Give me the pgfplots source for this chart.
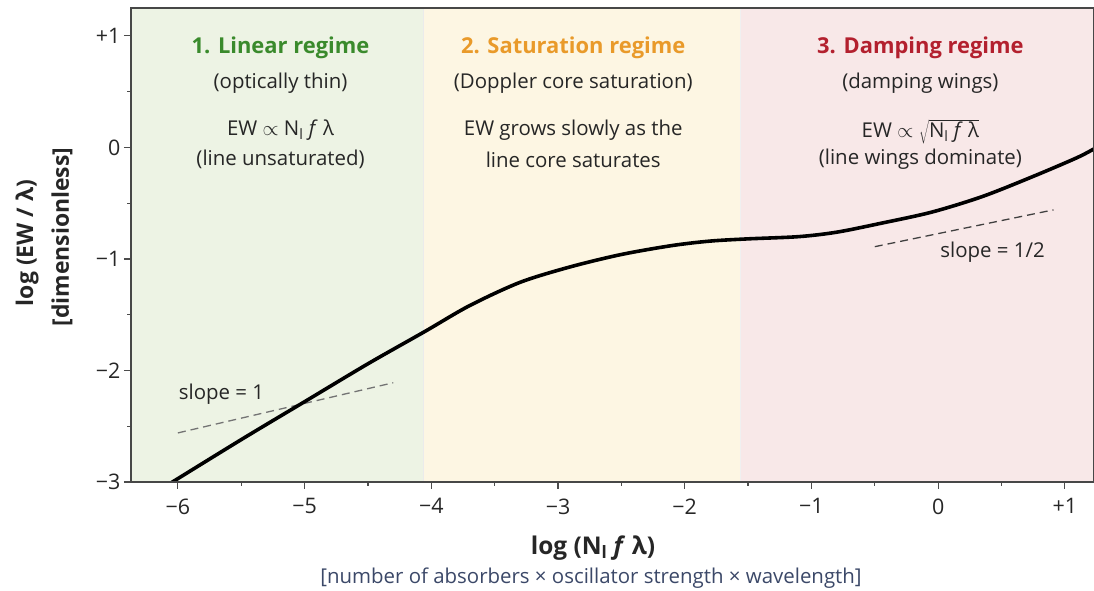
\documentclass[border=0pt]{standalone}
\usepackage{fontspec}
\setmainfont{Open Sans}
\usepackage{pgfplots}
\pgfplotsset{compat=1.18}
\definecolor{bgG}{HTML}{EDF3E4}
\definecolor{bgY}{HTML}{FDF6E3}
\definecolor{bgP}{HTML}{F8E8E8}
\definecolor{tG}{HTML}{3A8A2C}
\definecolor{tY}{HTML}{E99A2A}
\definecolor{tR}{HTML}{B3202E}
\definecolor{txt}{HTML}{262626}
\definecolor{sub}{HTML}{3B4868}
\begin{document}
\begin{tikzpicture}
\useasboundingbox (0,0) rectangle (1094bp,591bp);
\begin{axis}[
  at={(131bp,109bp)}, anchor=south west,
  width=963bp, height=474bp, scale only axis,
  xmin=-6.37, xmax=1.23, ymin=-3, ymax=1.25,
  xtick={-6,-5,-4,-3,-2,-1,0,1},
  xticklabels={−6,−5,−4,−3,−2,−1,0,+1},
  ytick={-3,-2,-1,0,1},
  yticklabels={−3,−2,−1,0,+1},
  minor xtick={-5.5,-4.5,-3.5,-2.5,-1.5,-0.5,0.5},
  minor ytick={-2.5,-1.5,-0.5,0.5},
  tick align=outside, xtick pos=left, ytick pos=left,
  major tick length=7bp, minor tick length=4bp,
  tick style={line width=1.2pt, color=black!70},
  axis line style={line width=1.6pt, black!72},
  ticklabel style={font=\fontsize{21.5}{25}\selectfont, text=txt},
  xticklabel style={yshift=-6bp},
  axis on top,
]
% regime bands
\addplot[draw=none, fill=bgG] coordinates {(-6.37,-3) (-4.065,-3) (-4.065,1.25) (-6.37,1.25)} -- cycle;
\addplot[draw=none, fill=bgY] coordinates {(-4.065,-3) (-1.56,-3) (-1.56,1.25) (-4.065,1.25)} -- cycle;
\addplot[draw=none, fill=bgP] coordinates {(-1.56,-3) (1.23,-3) (1.23,1.25) (-1.56,1.25)} -- cycle;
\addplot[draw=black!8, line width=0.8pt] coordinates {(-4.065,-3) (-4.065,1.25)};
\addplot[draw=black!6, line width=0.8pt] coordinates {(-1.56,-3) (-1.56,1.25)};
% slope guides
\addplot[draw=black!55, line width=1.3pt, dash pattern=on 8pt off 5pt] coordinates {(-6.0,-2.56) (-4.30,-2.11)};
\addplot[draw=black!75, line width=1.3pt, dash pattern=on 8pt off 5pt] coordinates {(-0.50,-0.89) (0.91,-0.56)};
% curve of growth
\addplot[black, line width=3.6pt, smooth] coordinates {
(-6.10,-3.04) (-5.5,-2.62) (-5.0,-2.28) (-4.5,-1.94) (-4.05,-1.65)
(-3.7,-1.42) (-3.3,-1.21) (-2.9,-1.07) (-2.5,-0.96) (-2.1,-0.88)
(-1.8,-0.84) (-1.5,-0.82) (-1.1,-0.80) (-0.8,-0.76) (-0.45,-0.68)
(-0.05,-0.58) (0.35,-0.44) (0.75,-0.26) (1.1,-0.09) (1.25,0.0)};
% annotations
\tikzset{big/.style={font=\fontsize{22}{26}\selectfont\bfseries},
         mid/.style={font=\fontsize{20.5}{24}\selectfont, text=txt}}
\node[big, text=tG] at (axis cs:-5.19,0.89) {1. Linear regime};
\node[mid] at (axis cs:-5.19,0.58) {(optically thin)};
\node[mid] at (axis cs:-5.19,0.152) {EW $\propto$ N\textsubscript{l} \textit{f} λ};
\node[mid] at (axis cs:-5.19,-0.108) {(line unsaturated)};
\node[big, text=tY] at (axis cs:-2.88,0.89) {2. Saturation regime};
\node[mid] at (axis cs:-2.88,0.58) {(Doppler core saturation)};
\node[mid] at (axis cs:-2.88,0.152) {EW grows slowly as the};
\node[mid] at (axis cs:-2.88,-0.108) {line core saturates};
\node[big, text=tR] at (axis cs:-0.14,0.89) {3. Damping regime};
\node[mid] at (axis cs:-0.14,0.58) {(damping wings)};
\node[mid] at (axis cs:-0.14,0.14) {EW $\propto\sqrt{\mbox{N\textsubscript{l} \textit{f} λ}}$};
\node[mid] at (axis cs:-0.14,-0.108) {(line wings dominate)};
\node[mid, anchor=west] at (axis cs:-6.02,-2.215) {slope = 1};
\node[mid] at (axis cs:0.43,-0.94) {slope = 1/2};
\end{axis}
\node[font=\fontsize{24.5}{28}\selectfont\bfseries, text=txt] at (593bp,43bp) {log (N\textsubscript{l} \textit{f} λ)};
\node[font=\fontsize{20.5}{24}\selectfont, text=sub] at (591bp,13bp) {[number of absorbers × oscillator strength × wavelength]};
\node[font=\fontsize{23}{27}\selectfont\bfseries, text=txt, rotate=90] at (27bp,348bp) {log (EW / λ)};
\node[font=\fontsize{23}{27}\selectfont\bfseries, text=txt, rotate=90] at (62bp,354bp) {[dimensionless]};
\end{tikzpicture}
\end{document}
